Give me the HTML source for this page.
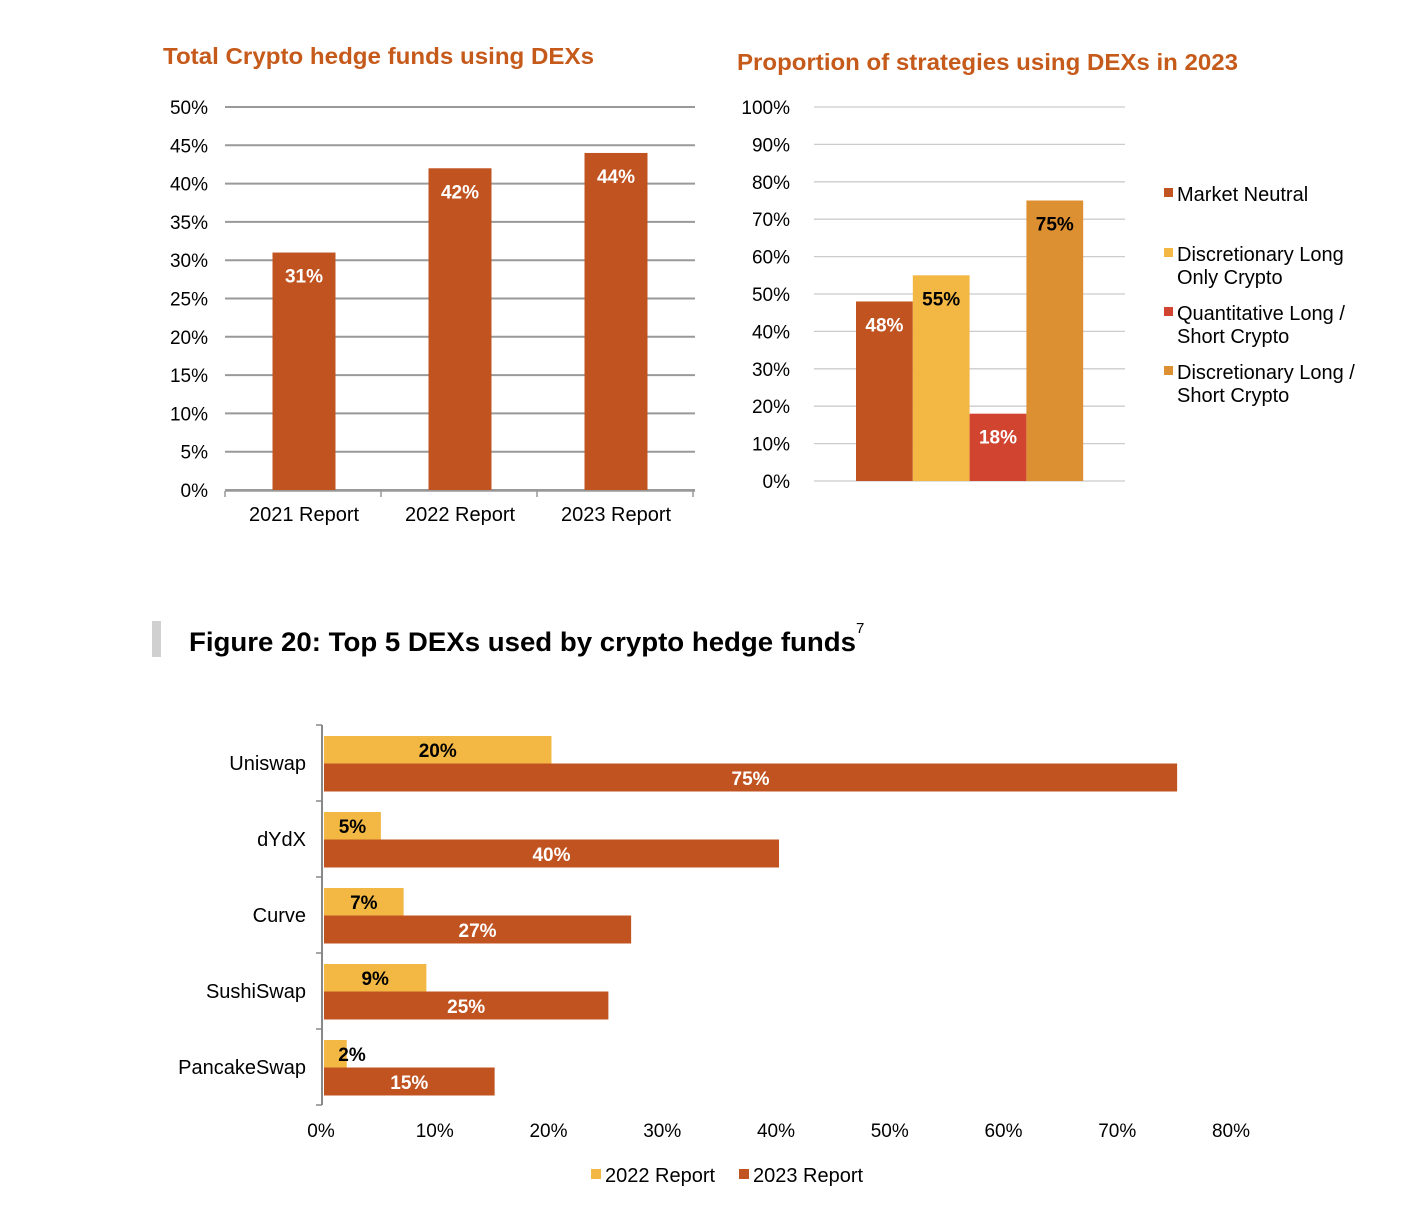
<!DOCTYPE html>
<html><head><meta charset="utf-8"><style>
html,body{margin:0;padding:0;background:#fff;}
svg{display:block;font-family:"Liberation Sans",Arial,sans-serif;}
</style></head><body>
<svg id="s" width="1424" height="1208" viewBox="0 0 1424 1208" xmlns="http://www.w3.org/2000/svg">
<text x="163" y="64" font-size="23" font-weight="bold" fill="#C55A1B" textLength="431" lengthAdjust="spacingAndGlyphs">Total Crypto  hedge funds using DEXs</text>
<text x="737" y="70" font-size="23" font-weight="bold" fill="#C55A1B" textLength="501" lengthAdjust="spacingAndGlyphs">Proportion of strategies using DEXs in 2023</text>
<rect x="152" y="621" width="9" height="36" fill="#d0d0d0"/>
<text x="189" y="651" font-size="27" font-weight="bold" fill="#000"><tspan textLength="667" lengthAdjust="spacingAndGlyphs">Figure 20: Top 5 DEXs used by crypto hedge funds</tspan><tspan font-size="15" font-weight="normal" dy="-18">7</tspan></text>
<g id="c1"></g><g id="c2"></g><g id="c3"></g>
</svg>
<script>
// Chart 1 data
const c1Cats = ["2021 Report","2022 Report","2023 Report"];
const c1Vals = [31,42,44];
const c1Ticks = [0,5,10,15,20,25,30,35,40,45,50];
// Chart 2 data
const c2Series = ["Market Neutral","Discretionary Long Only Crypto","Quantitative Long / Short Crypto","Discretionary Long / Short Crypto"];
const c2Vals = [48,55,18,75];
const c2Ticks = [0,10,20,30,40,50,60,70,80,90,100];
// Chart 3 data
const c3Cats = ["Uniswap","dYdX","Curve","SushiSwap","PancakeSwap"];
const c3V2022 = [20,5,7,9,2];
const c3V2023 = [75,40,27,25,15];
const c3Ticks = [0,10,20,30,40,50,60,70,80];

const NS="http://www.w3.org/2000/svg";
function mk(parent,tag,attrs,txt){const e=document.createElementNS(NS,tag);for(const k in attrs)e.setAttribute(k,attrs[k]);if(txt!==undefined)e.textContent=txt;parent.appendChild(e);return e;}

// Chart 1
(function(){
const g=document.getElementById('c1');
const y=v=>490-v*(490-107)/50;
const x0=225,band=156;
c1Ticks.forEach(t=>{
  const l=mk(g,'line',{x1:x0,x2:695,y1:y(t),y2:y(t),stroke:'#999','stroke-width':2});
  
  
  const tx=mk(g,'text',{x:208,y:y(t)+7,'font-size':19,'text-anchor':'end',fill:'#000'},t+'%');
  
  
});
const ax=mk(g,'line',{x1:x0,x2:695,y1:491,y2:491,stroke:'#999','stroke-width':1.5});


for(let i=0;i<=c1Cats.length;i++){const tk=mk(g,'line',{x1:x0+i*band,x2:x0+i*band,y1:491,y2:497,stroke:'#999','stroke-width':1.5});
 
 }
c1Cats.forEach((c,i)=>{
  const cx=x0+band*i+band/2+1;
  const b=mk(g,'rect',{x:cx-31.5,y:y(c1Vals[i]),width:63,height:y(0)-y(c1Vals[i]),fill:'#C05320'});
  
  
  const v=mk(g,'text',{x:cx,y:y(c1Vals[i])+30,'font-size':19,'font-weight':'bold','text-anchor':'middle',fill:'#fff'},c1Vals[i]+'%');
  
  
  const l=mk(g,'text',{x:cx,y:521,'font-size':20,'text-anchor':'middle',fill:'#000'},c);
  
  
});
})();

// Chart 2
(function(){
const g=document.getElementById('c2');
const y=v=>481-v*(481-107)/100;
const cols=['#C05320','#F3B843','#D04430','#DC9032'];
const txtCol=['#fff','#000','#fff','#000'];
c2Ticks.forEach(t=>{
  const l=mk(g,'line',{x1:814,x2:1125,y1:y(t),y2:y(t),stroke:'#ccc','stroke-width':1.3});
  
  
  const tx=mk(g,'text',{x:790,y:y(t)+7,'font-size':19,'text-anchor':'end',fill:'#000'},t+'%');
  
  
});
const bw=56.8,x0=856;
c2Vals.forEach((v,i)=>{
  const b=mk(g,'rect',{x:x0+i*bw,y:y(v),width:bw,height:y(0)-y(v),fill:cols[i]});
  
  
  const t=mk(g,'text',{x:x0+i*bw+bw/2,y:y(v)+30,'font-size':19,'font-weight':'bold','text-anchor':'middle',fill:txtCol[i]},v+'%');
  
  
});
const ly=[195,255,314,373];
const lines=[["Market Neutral"],["Discretionary Long","Only Crypto"],["Quantitative Long /","Short Crypto"],["Discretionary Long /","Short Crypto"]];
c2Series.forEach((s,i)=>{
  const r=mk(g,'rect',{x:1164,y:ly[i]-7,width:9,height:9,fill:cols[i]});
  
  
  lines[i].forEach((ln,j)=>{
    const t=mk(g,'text',{x:1177,y:ly[i]+6+j*23,'font-size':20,fill:'#000'},ln);
    
    
  });
});
})();

// Chart 3
(function(){
const g=document.getElementById('c3');
const x=v=>324+v*(1234-324)/80;
const top=725,band=76;
const ax=mk(g,'line',{x1:322,x2:322,y1:top,y2:top+band*5,stroke:'#888','stroke-width':2});


for(let i=0;i<=5;i++){const tk=mk(g,'line',{x1:316,x2:322,y1:top+i*band,y2:top+i*band,stroke:'#888','stroke-width':1.5});
 
 }
c3Ticks.forEach(t=>{
  const tx=mk(g,'text',{x:x(t)-3,y:1137,'font-size':19,'text-anchor':'middle',fill:'#000'},t+'%');
  
  
});
c3Cats.forEach((c,i)=>{
  const by=top+i*band+11;
  const a=mk(g,'rect',{x:x(0),y:by,width:x(c3V2022[i])-x(0),height:27.5,fill:'#F3B843'});
  
  
  const b=mk(g,'rect',{x:x(0),y:by+27.5,width:x(c3V2023[i])-x(0),height:28,fill:'#C05320'});
  
  
  const ta=mk(g,'text',{x:Math.max((x(0)+x(c3V2022[i]))/2,352),y:by+21,'font-size':19,'font-weight':'bold','text-anchor':'middle',fill:'#000'},c3V2022[i]+'%');
  
  
  const tb=mk(g,'text',{x:(x(0)+x(c3V2023[i]))/2,y:by+49,'font-size':19,'font-weight':'bold','text-anchor':'middle',fill:'#fff'},c3V2023[i]+'%');
  
  
  const l=mk(g,'text',{x:306,y:top+i*band+45,'font-size':20,'text-anchor':'end',fill:'#000'},c);
  
  
});
const legend=[["2022 Report",'#F3B843',591],["2023 Report",'#C05320',739]];
legend.forEach(([n,c,lx])=>{
  const r=mk(g,'rect',{x:lx,y:1169,width:10,height:10,fill:c});
  
  
  const t=mk(g,'text',{x:lx+14,y:1182,'font-size':20,fill:'#000'},n);
  
  
});
})();
</script>
</body></html>
